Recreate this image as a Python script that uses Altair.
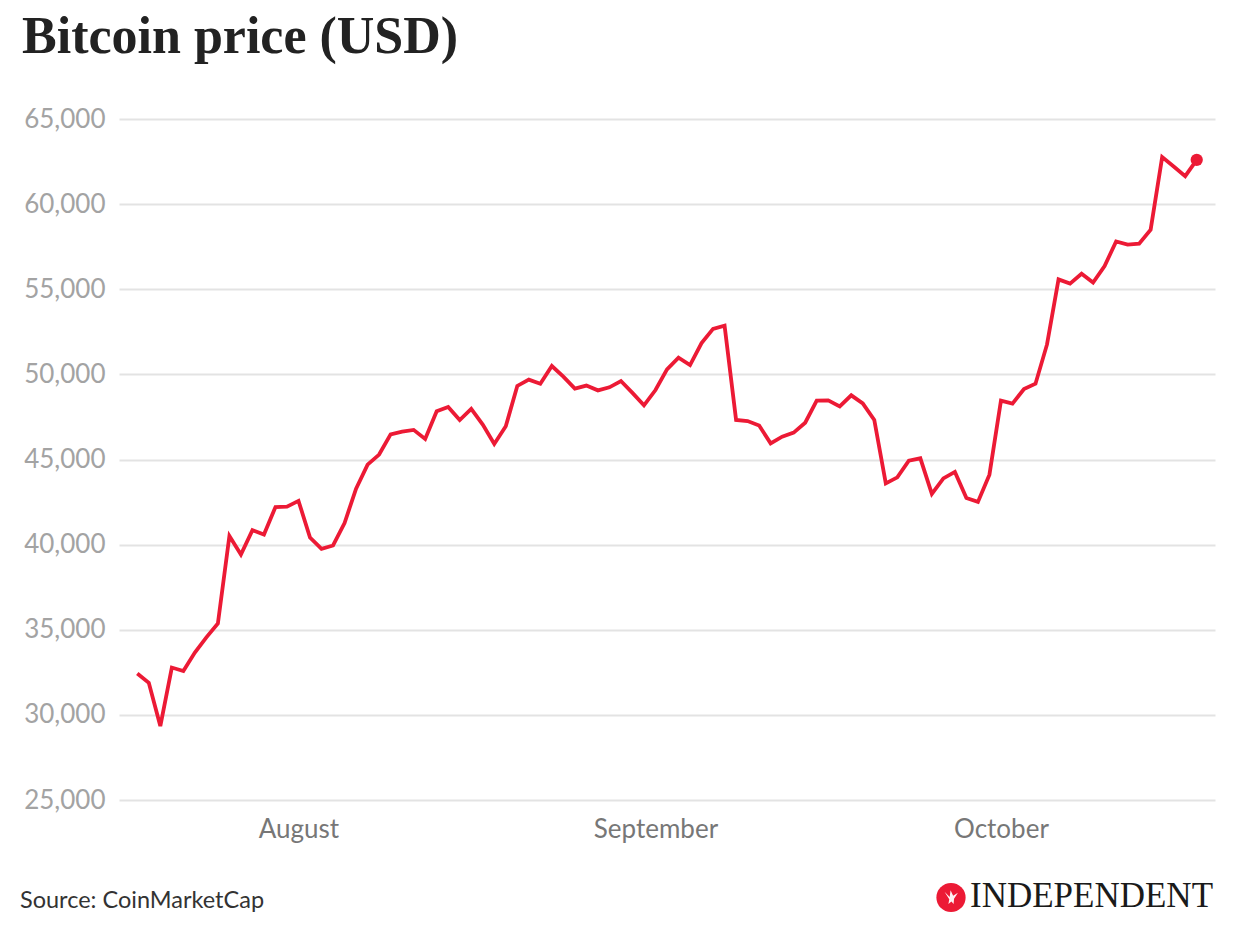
import altair as alt
import pandas as pd

# ---- data ----
start_date = "2021-07-18"          # first daily point
prices = [
    32430, 31880, 29340, 32780, 32580, 33660, 34550, 35370, 40510, 39420,
    40850, 40590, 42210, 42230, 42570, 40420, 39750, 39950, 41270, 43290,
    44700, 45290, 46480, 46640, 46740, 46210, 47830, 48090, 47320, 47970,
    47050, 45910, 46950, 49320, 49690, 49450, 50490, 49870, 49160, 49340,
    49060, 49240, 49610, 48910, 48180, 49080, 50290, 50980, 50550, 51840,
    52670, 52860, 47320, 47260, 47000, 45950, 46340, 46580, 47160, 48460,
    48470, 48120, 48770, 48300, 47320, 43600, 43950, 44930, 45070, 42980,
    43890, 44270, 42740, 42510, 44110, 48460, 48280, 49140, 49450, 51760,
    55580, 55330, 55910, 55390, 56360, 57810, 57620, 57680, 58500, 62760,
    62210, 61640, 62600,
]
month_ticks = [(2021, 8, 1), (2021, 9, 1), (2021, 10, 1)]
y_ticks = [25000, 30000, 35000, 40000, 45000, 50000, 55000, 60000, 65000]
title_text = "Bitcoin price (USD)"
source_text = "Source: CoinMarketCap"
brand_text = "INDEPENDENT"

RED = "#ec1a35"

dates = pd.date_range(start_date, periods=len(prices), freq="D")
df = pd.DataFrame({"date": dates.strftime("%Y-%m-%dT00:00:00Z"), "price": prices})
last = df.tail(1)

x_scale = alt.Scale(
    type="utc",
    domain=[
        alt.DateTime(year=2021, month=7, date=16, hours=9, minutes=54, utc=True),
        alt.DateTime(year=2021, month=10, date=19, hours=14, minutes=6, utc=True),
    ],
)
x_enc = alt.X(
    "date:T",
    scale=x_scale,
    axis=alt.Axis(
        values=[alt.DateTime(year=y, month=m, date=d, utc=True) for y, m, d in month_ticks],
        format="%B",
        formatType="utc",
        title=None,
        grid=False,
        ticks=False,
        domain=False,
        labelFont="Lato",
        labelFontSize=26,
        labelColor="#777777",
        labelPadding=16,
    ),
)
y_enc = alt.Y(
    "price:Q",
    scale=alt.Scale(domain=[25000, 65000], nice=False, zero=False),
    axis=alt.Axis(
        values=y_ticks,
        format=",d",
        title=None,
        ticks=False,
        domain=False,
        gridColor="#e3e3e3",
        gridWidth=1.8,
        labelFont="Lato",
        labelFontSize=26,
        labelColor="#a3a3a3",
        labelPadding=14,
    ),
)

line = alt.Chart(df).mark_line(color=RED, strokeWidth=3.8, strokeJoin="miter").encode(x=x_enc, y=y_enc)
dot = alt.Chart(last).mark_circle(color=RED, size=150, opacity=1).encode(x="date:T", y="price:Q")

src = alt.Chart(pd.DataFrame({"t": [source_text]})).mark_text(
    align="left", baseline="alphabetic", font="Lato", fontSize=23.5, color="#333333"
).encode(x=alt.value(-99), y=alt.value(789), text="t:N")

logo_df = pd.DataFrame({"t": [brand_text]})
logo_circle = alt.Chart(logo_df).mark_circle(
    color=RED, size=855, opacity=1
).encode(x=alt.value(832), y=alt.value(778.5))

eagle_path = (
    "M -0.75,-0.65 L -0.15,-0.05 L -0.05,-0.85 L 0.25,-0.2 L 0.8,-0.55 "
    "L 0.35,0.15 L 0.3,0.75 L 0.05,0.45 L -0.3,0.75 L -0.2,0.2 Z"
)
eagle = alt.Chart(logo_df).mark_point(
    shape=eagle_path, filled=True, color="white", opacity=0.95, size=300, strokeWidth=0
).encode(x=alt.value(832), y=alt.value(778.5))

brand = alt.Chart(logo_df).mark_text(
    align="left", baseline="alphabetic", font="Liberation Serif", fontSize=35, color="#1a1a1a"
).encode(x=alt.value(851), y=alt.value(788.3), text="t:N")

chart = alt.layer(line, dot, src, logo_circle, eagle, brand).properties(
    width=1096,
    height=681,
    padding={"left": 111, "top": 111, "right": 10, "bottom": 120},
    autosize=alt.AutoSizeParams(type="none"),
    title=alt.TitleParams(
        text=title_text,
        anchor="start",
        frame="bounds",
        font="Liberation Serif",
        fontSize=52,
        fontWeight="bold",
        color="#222222",
        baseline="alphabetic",
        offset=1,
        dx=2,
    ),
).configure_view(stroke=None)

chart.save("out.html", embed_options={"renderer": "svg", "actions": False})
